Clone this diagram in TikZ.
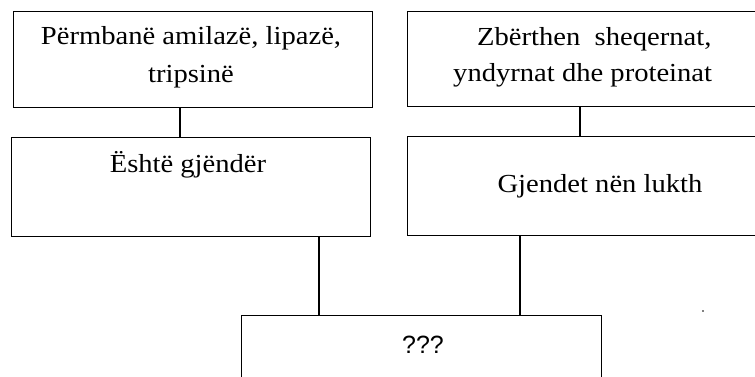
\documentclass[tikz,border=0pt]{standalone}
\usepackage{fontspec}
\setmainfont{Liberation Serif}[FakeStretch=1.1]
\newfontfamily\qfont{Liberation Sans}
\begin{document}
\begin{tikzpicture}[x=1pt,y=-1pt,
  box/.style={draw=black, line width=1.2pt, rectangle, inner sep=0pt, anchor=north west},
  txt/.style={anchor=base, inner sep=0pt, font=\fontsize{26}{38}\selectfont},
  qtxt/.style={anchor=base, inner sep=0pt, font=\qfont\fontsize{25}{30}\selectfont},
  link/.style={draw=black, line width=1.2pt}]
\useasboundingbox (0,0) rectangle (755,377);
\fill[white] (0,0) rectangle (755,377);
\clip (0,0) rectangle (755,377);
% boxes
\node[box, minimum width=359pt, minimum height=96pt] (A) at (13,11) {};
\node[box, minimum width=359pt, minimum height=99pt] (B) at (11,137) {};
\node[box, minimum width=368pt, minimum height=95pt] (C) at (407,11) {};
\node[box, minimum width=368pt, minimum height=99pt] (D) at (407,136) {};
\node[box, minimum width=360pt, minimum height=90pt] (E) at (241,315) {};
% texts
\node[txt] (tA1) at (191,45) {Përmbanë amilazë, lipazë,};
\node[txt] (tA2) at (191,83) {tripsinë};
\node[txt] (tB) at (188,172) {Është gjëndër};
\node[txt, anchor=base west] (tC1) at (477,46) {Zbërthen\ \ sheqernat,};
\node[txt, anchor=base west] (tC2) at (453,82) {yndyrnat dhe proteinat};
\node[txt] (tD) at (600,192) {Gjendet nën lukth};
\node[qtxt] (tE) at (423,353) {???};
% connectors
\draw[link] (A.south -| 180,0) -- (B.north -| 180,0);
\draw[link] (C.south -| 580,0) -- (D.north -| 580,0);
\draw[link] (B.south -| 319,0) -- (E.north -| 319,0);
\draw[link] (D.south -| 520,0) -- (E.north -| 520,0);
% stray dot
\fill[black] (703,311) circle (0.9pt);
\end{tikzpicture}
\end{document}
